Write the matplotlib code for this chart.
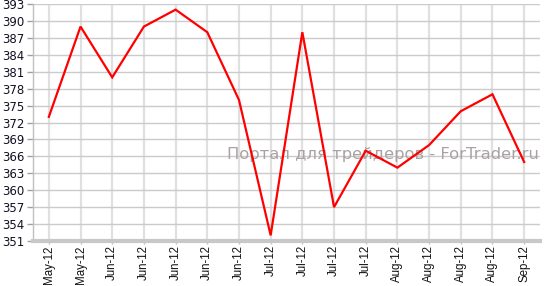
import matplotlib
matplotlib.use("Agg")
import matplotlib.pyplot as plt

labels = ["May-12", "May-12", "Jun-12", "Jun-12", "Jun-12", "Jun-12", "Jun-12",
          "Jul-12", "Jul-12", "Jul-12", "Jul-12", "Aug-12", "Aug-12", "Aug-12",
          "Aug-12", "Sep-12"]
values = [373, 389, 380, 389, 392, 388, 376, 352, 388, 357, 367, 364, 368, 374, 377, 365]
yticks = list(range(351, 394, 3))

fig = plt.figure(figsize=(5.45, 2.86), dpi=100)
ax = fig.add_axes([33/545, 1-241/286, 507/545, 237/286])

x = list(range(len(values)))
for xi in x:
    ax.axvline(xi, color="#e0e0e0", lw=1.6, zorder=1)
for yv in yticks:
    ax.axhline(yv, color="#cbcbcb", lw=1.0, zorder=1)

ax.plot(x, values, color="#ff0000", lw=1.6, zorder=3, solid_joinstyle="miter")

ax.set_xlim(-0.5, len(values) - 0.5)
ax.set_ylim(351, 393)
ax.set_yticks(yticks)
ax.set_yticklabels([str(v) for v in yticks], fontsize=8.5, color="#111122",
                   family="DejaVu Sans")
for t in ax.get_yticklabels():
    t.set_verticalalignment("center_baseline")
ax.set_xticks(x)
ax.set_xticklabels(labels, rotation=90, fontsize=8.3, family="Liberation Sans",
                   color="#111111")

for s in ["top", "right"]:
    ax.spines[s].set_visible(False)
ax.spines["left"].set_color("#c0c0c0")
ax.spines["left"].set_linewidth(1.0)
ax.spines["bottom"].set_color("#c8c8c8")
ax.spines["bottom"].set_linewidth(3)
ax.tick_params(axis="y", length=4, width=1, color="#a0a0a0", pad=2)
ax.tick_params(axis="x", length=2.5, width=1, color="#c0c0c0", pad=0.5)

ax.text(0.998, 1 - (154 - 4) / 237, "Портал для трейдеров - ForTrader.ru",
        transform=ax.transAxes, ha="right", va="center", fontsize=11.8,
        color="#aaa2a2", family="DejaVu Sans", zorder=2)

fig.savefig("out.png", dpi=100)
